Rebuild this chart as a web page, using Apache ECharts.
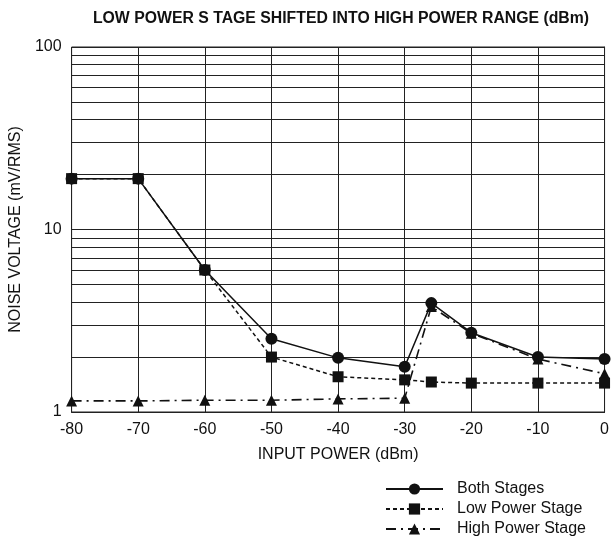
<!DOCTYPE html>
<html>
<head>
<meta charset="utf-8">
<script src="https://cdn.jsdelivr.net/npm/echarts@6/dist/echarts.min.js"></script>
<style>html,body{margin:0;padding:0;background:#fff}#c{width:612px;height:546px}</style>
</head>
<body>
<div id="c"></div>
<script>
const titleText = 'LOW POWER S TAGE SHIFTED INTO HIGH POWER RANGE (dBm)';
const xTicks = [-80, -70, -60, -50, -40, -30, -20, -10, 0];
const xBoth = [-80, -70, -60, -50, -40, -30, -26, -20, -10, 0];
const bothStages = [19, 19, 6, 2.52, 1.98, 1.77, 3.95, 2.72, 2.0, 1.95];
const lowPower   = [19, 19, 6, 2.0, 1.56, 1.50, 1.46, 1.44, 1.44, 1.44];
const highPower  = [1.15, 1.15, 1.16, 1.16, 1.18, 1.19, 3.78, 2.7, 1.95, 1.62];
const minorGrid = [2, 3, 4, 5, 6, 7, 8, 9, 20, 30, 40, 50, 60, 70, 80, 90];
const seriesNames = ['Both Stages', 'Low Power Stage', 'High Power Stage'];

const pairs = (xs, ys) => xs.map((x, i) => [x, ys[i]]);
const font = 'Liberation Sans, Arial, sans-serif';

const chart = echarts.init(document.getElementById('c'), null, {renderer: 'canvas'});
chart.setOption({
  animation: false,
  backgroundColor: '#fff',
  title: {
    text: titleText, left: 336, top: 6, textAlign: 'center',
    textStyle: {fontFamily: 'Liberation Sans Narrow, Arial Narrow, Liberation Sans, sans-serif', fontWeight: 'bold', fontSize: 15.8, color: '#111'}
  },
  grid: {left: 71, right: 7, top: 47, bottom: 134, show: true, borderColor: '#222', borderWidth: 1},
  legend: {
    orient: 'vertical', left: 385, top: 480, padding: 0, itemWidth: 57, itemHeight: 14, itemGap: 2,
    textStyle: {fontFamily: font, fontSize: 16, color: '#111', padding: [0,0,0,9], lineHeight: 18},
    data: seriesNames
  },
  xAxis: {
    type: 'value', min: -80, max: 0, interval: 10,
    name: 'INPUT POWER (dBm)', nameLocation: 'middle', nameGap: 35,
    nameTextStyle: {fontFamily: font, fontSize: 16, color: '#111'},
    axisLine: {lineStyle: {color: '#222', width: 1}},
    axisTick: {show: false},
    axisLabel: {fontFamily: font, fontSize: 16, color: '#111', margin: 10},
    splitLine: {show: true, lineStyle: {color: '#222', width: 1}}
  },
  yAxis: {
    type: 'log', logBase: 10, min: 1, max: 100,
    name: 'NOISE VOLTAGE (mV/RMS)', nameLocation: 'middle', nameGap: 46,
    nameTextStyle: {fontFamily: font, fontSize: 16, color: '#111'},
    axisLine: {lineStyle: {color: '#222', width: 1}},
    axisTick: {show: false},
    axisLabel: {fontFamily: font, fontSize: 16, color: '#111', margin: 10},
    splitLine: {show: true, lineStyle: {color: '#222', width: 1}}
  },
  series: [
    {
      name: 'grid', type: 'line', data: [], silent: true, z: 1,
      markLine: {
        silent: true, symbol: 'none', label: {show: false}, z: 1,
        lineStyle: {color: '#222', width: 1, type: 'solid'},
        data: minorGrid.map(v => ({yAxis: v}))
      }
    },
    {
      name: seriesNames[2], type: 'line', data: pairs(xBoth, highPower), z: 3,
      symbol: 'triangle', symbolSize: 11,
      lineStyle: {color: '#111', width: 1.6, type: [10, 5, 2, 5]},
      itemStyle: {color: '#111'}
    },
    {
      name: seriesNames[1], type: 'line', data: pairs(xBoth, lowPower), z: 4,
      symbol: 'rect', symbolSize: 11,
      lineStyle: {color: '#111', width: 1.5, type: [4, 3]},
      itemStyle: {color: '#111'}
    },
    {
      name: seriesNames[0], type: 'line', data: pairs(xBoth, bothStages), z: 5,
      symbol: 'circle', symbolSize: 12,
      lineStyle: {color: '#111', width: 1.5, type: 'solid'},
      itemStyle: {color: '#111'}
    }
  ]
});
</script>
</body>
</html>
